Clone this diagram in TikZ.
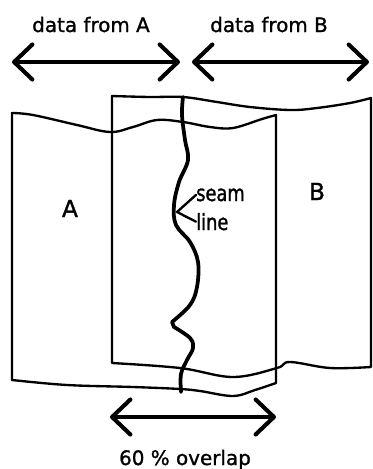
\documentclass[tikz,border=0pt]{standalone}
\usepackage{fontspec}
\setmainfont{DejaVu Sans}[FakeBold=1.2]
\newfontfamily\narrowfont{DejaVu Sans}[FakeStretch=0.8,FakeBold=1.2]
\usetikzlibrary{%
    arrows.meta,%
    positioning
    }
\tikzset{
  lbl/.style={
    font=\fontsize{17}{20}\selectfont,
    inner sep=0pt,
  },
  seamlbl/.style={
    font=\narrowfont\fontsize{19}{22}\selectfont,
    inner sep=0pt,
  },
  letter/.style={
    font=\fontsize{20}{24}\selectfont,
    inner sep=0pt,
  },
  stripline/.style={
    line width=2pt,
    line join=round,
  },
  seamline/.style={
    line width=3.2pt,
    line cap=round,
    line join=round,
  },
  span/.style={
    {Straight Barb[length=0.55cm,width=1.05cm,round]}-{Straight Barb[length=0.55cm,width=1.05cm,round]},
    line width=3.5pt,
    line cap=round,
  },
}

\begin{document}
\begin{tikzpicture}[x=0.03cm,y=-0.03cm]
\useasboundingbox (0,0) rectangle (373,469);

% strip A
\draw[stripline]
  plot[smooth,tension=0.6] coordinates {(12,113) (33,115) (77,125) (110,132) (133,127)
    (157,120) (183,122) (210,127) (233,128) (262,119) (276,115)}
  -- (276,383)
  -- plot[smooth,tension=0.6] coordinates {(276,383) (255,390) (233,396) (200,391)
    (180,389) (133,387) (67,385) (12,380)}
  -- cycle;

% strip B
\draw[stripline]
  plot[smooth,tension=0.6] coordinates {(112,96) (150,97) (183,97) (217,102) (250,107)
    (290,110) (317,108) (350,103) (371,98)}
  -- (371,367)
  -- plot[smooth,tension=0.6] coordinates {(371,367) (330,368) (290,362) (277,368)
    (233,377) (180,368) (112,363)}
  -- cycle;

% seam
\draw[seamline]
  plot[smooth,tension=0.6] coordinates {(183,97) (182,115) (185,140) (188,160) (179,182)
    (174,205) (176,225) (190,242) (198,262) (197,287) (190,305) (172,322)}
  -- plot[smooth,tension=0.6] coordinates {(174,327) (190,338) (193,348) (187,360)
    (181,374) (181,392)};

\node[letter,anchor=base] (stripA) at (70,217) {A};
\node[letter,anchor=base] (stripB) at (317,200) {B};
\node[seamlbl,anchor=base west] (seamTxt) at (196,201) {seam};
\node[seamlbl,anchor=base west] (lineTxt) at (196,230) {line};
\coordinate (seamTip) at (177,212);
\draw[stripline,line cap=round]
  (seamTxt.west) -- (seamTip) -- (lineTxt.west);

% spans
\coordinate (aL) at (12,62);
\coordinate (aR) at (180,62);
\coordinate (bL) at (192,62);
\coordinate (bR) at (369,62);
\coordinate (oL) at (110,417);
\coordinate (oR) at (276,417);

\node[lbl,anchor=base] (fromA) at (91,32) {data from A};
\node[lbl,anchor=base] (fromB) at (269,32) {data from B};
\node[lbl,anchor=base] (overlap) at (185,465) {60 \% overlap};

\begin{scope}[span]
\draw
  (aL) -- (aR);
\draw
  (bL) -- (bR);
\draw
  (oL) -- (oR);
\end{scope}
\end{tikzpicture}
\end{document}
